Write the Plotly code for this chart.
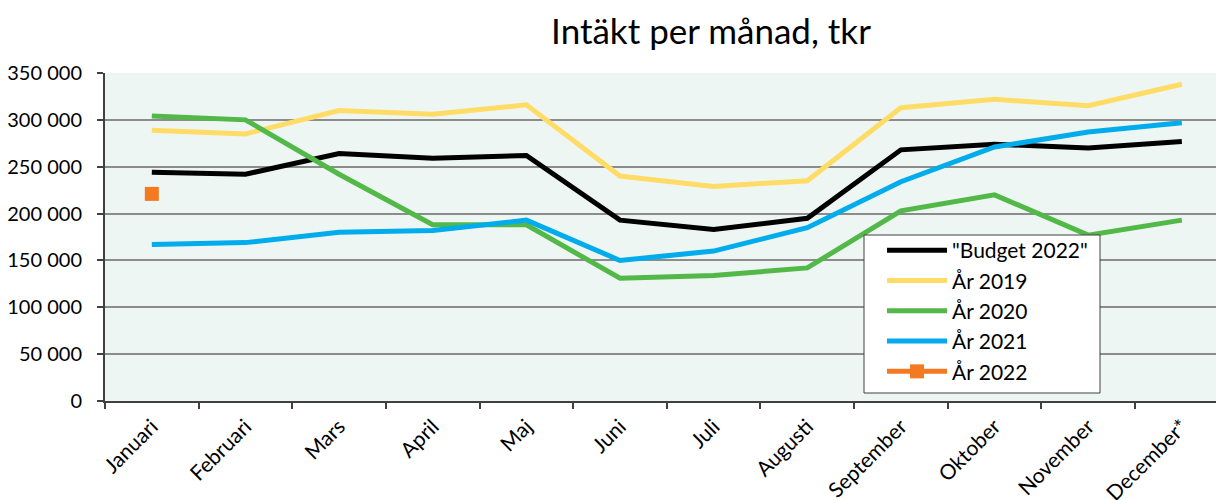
import plotly.graph_objects as go

months = ["Januari", "Februari", "Mars", "April", "Maj", "Juni", "Juli",
          "Augusti", "September", "Oktober", "November", "December*"]

budget_2022 = [244000, 242000, 264000, 259000, 262000, 193000, 183000, 195000, 268000, 274000, 270000, 277000]
year_2019 = [289000, 285000, 310000, 306000, 316000, 240000, 229000, 235000, 313000, 322000, 315000, 338000]
year_2020 = [304000, 300000, 242000, 188000, 188000, 131000, 134000, 142000, 203000, 220000, 177000, 193000]
year_2021 = [167000, 169000, 180000, 182000, 193000, 150000, 160000, 185000, 234000, 271000, 287000, 297000]
year_2022 = [221000]

series = [
    ('"Budget 2022"', budget_2022, "#000000"),
    ("År 2019", year_2019, "#FFDC66"),
    ("År 2020", year_2020, "#52B848"),
    ("År 2021", year_2021, "#00ACEB"),
]

fig = go.Figure()
for i, (name, vals, col) in enumerate(series):
    fig.add_trace(go.Scatter(
        x=months[:len(vals)], y=vals, name=name, mode="lines",
        line=dict(color=col, width=5), legendgroup=f"g{i}"))

fig.add_trace(go.Scatter(
    x=months[:len(year_2022)], y=year_2022, name="År 2022", mode="lines+markers",
    line=dict(color="#F47920", width=5),
    marker=dict(symbol="square", size=14, color="#F47920"),
    legendgroup="g4"))

# plot area: x 105..1216 (1111 px), y 73..401 (328 px)
PW, PH = 1111, 328
fig.add_shape(type="rect", xref="paper", yref="paper",
              x0=(864 - 105) / PW, x1=(1100 - 105) / PW,
              y0=(401 - 393) / PH, y1=(401 - 235) / PH,
              fillcolor="white", line=dict(color="#404040", width=1), layer="above")

fig.update_layout(
    width=1216, height=500,
    margin=dict(l=105, r=0, t=73, b=99, autoexpand=False),
    paper_bgcolor="white",
    plot_bgcolor="#EDF6F3",
    font=dict(family="Lato", size=20, color="black"),
    separators=", ",
    title=dict(text="Intäkt per månad, tkr", font=dict(size=35, family="Lato", color="black"),
               x=711 / 1216, xref="container", xanchor="center",
               y=1 - 32 / 500, yref="container", yanchor="middle"),
    showlegend=True,
    legend=dict(
        x=(882 - 105) / PW, y=(401 - 230) / PH, xanchor="left", yanchor="top",
        bgcolor="rgba(0,0,0,0)", borderwidth=0,
        font=dict(size=21, family="Lato", color="black"),
        tracegroupgap=7, itemwidth=60,
        traceorder="normal",
    ),
)

fig.update_xaxes(
    type="category", categoryorder="array", categoryarray=months,
    range=[-0.5, 11.365], automargin=False,
    tickson="boundaries", ticks="outside", ticklen=6, tickcolor="#404040", tickwidth=2,
    ticklabelstandoff=3,
    showgrid=False, showline=True, linecolor="#404040", linewidth=2,
    tickangle=-45, tickfont=dict(size=21, family="Lato"),
    fixedrange=True,
)
fig.update_yaxes(
    range=[0, 350000], tickvals=list(range(0, 350001, 50000)), tickformat=",d",
    automargin=False,
    ticks="outside", ticklen=6, tickcolor="#404040", tickwidth=2,
    ticklabelstandoff=11,
    showgrid=True, gridcolor="#8C8C8C", gridwidth=2,
    showline=True, linecolor="#404040", linewidth=2,
    zeroline=False, fixedrange=True,
    tickfont=dict(size=20, family="Lato"),
)

fig.write_html("out.html", config={"displayModeBar": False},
               post_script="document.body.style.margin='0';")
